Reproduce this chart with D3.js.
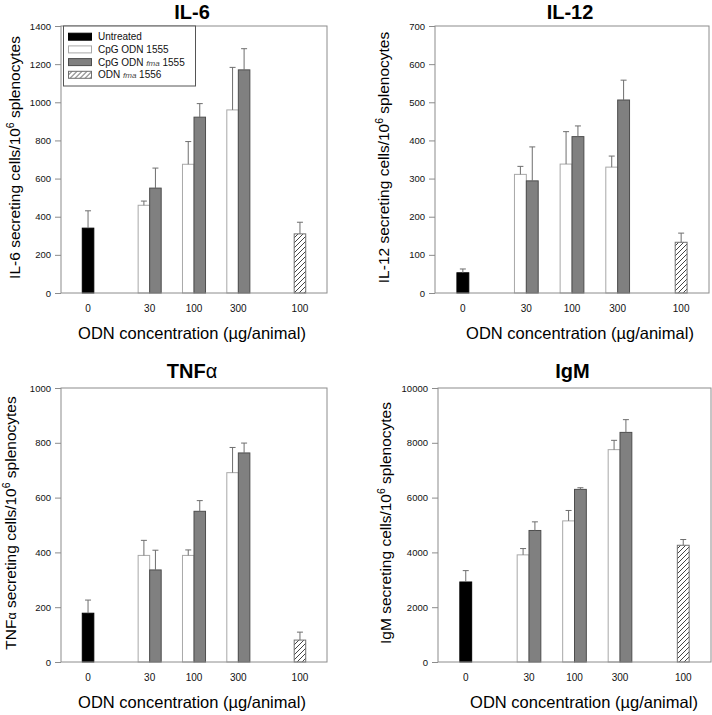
<!DOCTYPE html>
<html>
<head>
<meta charset="utf-8">
<script src="https://cdn.jsdelivr.net/npm/d3@7"></script>
<style>
  body { margin: 0; background: #fff; }
  svg { display: block; }
  text { font-family: "Liberation Sans", Arial, Helvetica, sans-serif; }
</style>
</head>
<body>
<div id="chart"></div>
<script>
// dose groups on the x axis (the last group is the control ODN)
const doseLabels = ['0', '30', '100', '300', '100'];
const seriesNames = ['Untreated', 'CpG ODN 1555', 'CpG ODN fma 1555', 'ODN fma 1556'];

// rows = series, columns = dose groups, null = not given
const il6Mean = [
    [340, null, null, null, null],
    [null, 460, 675, 960, null],
    [null, 550, 922, 1170, null],
    [null, null, null, null, 310]
];
const il6Err = [
    [91, null, null, null, null],
    [null, 22, 119, 223, null],
    [null, 105, 71, 111, null],
    [null, null, null, null, 61]
];

const il12Mean = [
    [53, null, null, null, null],
    [null, 311, 338, 330, null],
    [null, 294, 410, 506, null],
    [null, null, null, null, 133]
];
const il12Err = [
    [10, null, null, null, null],
    [null, 21, 85, 29, null],
    [null, 89, 28, 52, null],
    [null, null, null, null, 24]
];

const tnfMean = [
    [178, null, null, null, null],
    [null, 389, 389, 691, null],
    [null, 336, 550, 763, null],
    [null, null, null, null, 80]
];
const tnfErr = [
    [48, null, null, null, null],
    [null, 55, 20, 92, null],
    [null, 72, 39, 36, null],
    [null, null, null, null, 29]
];

const igmMean = [
    [2920, null, null, null, null],
    [null, 3910, 5150, 7750, null],
    [null, 4800, 6300, 8380, null],
    [null, null, null, null, 4260]
];
const igmErr = [
    [415, null, null, null, null],
    [null, 230, 380, 340, null],
    [null, 315, 60, 465, null],
    [null, null, null, null, 210]
];

const panels = [
    { title: 'IL-6', ylab: 'IL-6', mean: il6Mean, err: il6Err, yMax: 1400, yStep: 200,
      left: 61, right: 327, top: 26, bottom: 293, titleY: 18.5, ylabX: 20, xlabX: 192, legend: true },
    { title: 'IL-12', ylab: 'IL-12', mean: il12Mean, err: il12Err, yMax: 700, yStep: 100,
      left: 435, right: 709, top: 26, bottom: 293, titleY: 18.5, ylabX: 389, xlabX: 580 },
    { title: 'TNF', ylab: 'TNF', alpha: true, mean: tnfMean, err: tnfErr, yMax: 1000, yStep: 200,
      left: 61, right: 327, top: 388, bottom: 662, titleY: 378, ylabX: 16, xlabX: 192 },
    { title: 'IgM', ylab: 'IgM', mean: igmMean, err: igmErr, yMax: 10000, yStep: 2000,
      left: 438, right: 711, top: 388, bottom: 662, titleY: 378, ylabX: 391, xlabX: 584 }
];

const fills = ['#000000', '#ffffff', '#808080', 'url(#hatch)'];
const strokes = ['#000000', '#a8a8a8', '#4d4d4d', '#707070'];

const svg = d3.select('#chart').append('svg')
    .attr('width', 712)
    .attr('height', 715);

const defs = svg.append('defs');
defs.append('pattern')
      .attr('id', 'hatch')
      .attr('patternUnits', 'userSpaceOnUse')
      .attr('width', 5)
      .attr('height', 5)
    .call(pt => pt.append('rect').attr('width', 5).attr('height', 5).attr('fill', '#fff'))
    .append('path')
      .attr('d', 'M-1,1 l2,-2 M0,5 l5,-5 M4,6 l2,-2')
      .attr('stroke', '#303030')
      .attr('stroke-width', 0.9);

panels.forEach(p => drawPanel(svg, p));

function nameParts(sel, name, small) {
    // "fma" is set in small italics
    const parts = name.split('fma');
    parts.forEach((part, i) => {
        if (i > 0) {
            sel.append('tspan').attr('font-style', 'italic').attr('font-size', small).attr('fill', '#444').text('fma');
        }
        sel.append('tspan').text(part);
    });
}

function drawPanel(svg, p) {
    const w = p.right - p.left;
    const h = p.bottom - p.top;
    const g = svg.append('g').attr('transform', `translate(${p.left},${p.top})`);

    const y = d3.scaleLinear().domain([0, p.yMax]).range([h, 0]);
    const x = d3.scalePoint().domain(d3.range(doseLabels.length)).range([0, w]).padding(1);
    const bw = x.step() * 0.26;
    const sub = d3.scaleBand().domain(d3.range(seriesNames.length)).range([-2 * bw, 2 * bw]);

    const bars = [];
    p.mean.forEach((row, s) => row.forEach((v, c) => {
        if (v != null) bars.push({ s, c, v, e: p.err[s][c] });
    }));

    g.selectAll('rect.bar')
        .data(bars)
        .join('rect')
          .attr('class', 'bar')
          .attr('x', d => x(d.c) + sub(d.s))
          .attr('y', d => y(d.v))
          .attr('width', sub.bandwidth())
          .attr('height', d => h - y(d.v))
          .attr('fill', d => fills[d.s])
          .attr('stroke', d => strokes[d.s])
          .attr('stroke-width', 1);

    // error bars, upper half only
    const eb = g.selectAll('g.err')
        .data(bars)
        .join('g')
          .attr('class', 'err')
          .attr('stroke', '#6e6e6e')
          .attr('stroke-width', 1);
    eb.append('line')
        .attr('x1', d => x(d.c) + sub(d.s) + sub.bandwidth() / 2)
        .attr('x2', d => x(d.c) + sub(d.s) + sub.bandwidth() / 2)
        .attr('y1', d => y(d.v))
        .attr('y2', d => y(d.v + d.e));
    eb.append('line')
        .attr('x1', d => x(d.c) + sub(d.s) + sub.bandwidth() / 2 - 3)
        .attr('x2', d => x(d.c) + sub(d.s) + sub.bandwidth() / 2 + 3)
        .attr('y1', d => y(d.v + d.e))
        .attr('y2', d => y(d.v + d.e));

    // frame
    g.append('rect')
        .attr('width', w)
        .attr('height', h)
        .attr('fill', 'none')
        .attr('stroke', '#8c8c8c');

    const yAxis = d3.axisLeft(y)
        .tickValues(d3.range(0, p.yMax + 1, p.yStep))
        .tickSize(6)
        .tickPadding(4)
        .tickFormat(d3.format('d'));
    g.append('g')
        .call(yAxis)
        .call(a => a.select('.domain').remove())
        .call(a => a.selectAll('.tick line').attr('stroke', '#8c8c8c'))
        .call(a => a.selectAll('.tick text').attr('font-size', 9.5).attr('fill', '#111'));

    // dose labels sit under the middle of the bars that are present
    const labelX = doseLabels.map((lab, c) => {
        const here = bars.filter(b => b.c === c);
        return d3.mean(here, b => x(b.c) + sub(b.s) + sub.bandwidth() / 2);
    });
    g.selectAll('text.dose')
        .data(doseLabels)
        .join('text')
          .attr('class', 'dose')
          .attr('x', (d, i) => labelX[i])
          .attr('y', h + 19)
          .attr('text-anchor', 'middle')
          .attr('font-size', 10)
          .attr('fill', '#111')
          .text(d => d);

    // x axis title
    svg.append('text')
        .attr('x', p.xlabX)
        .attr('y', p.bottom + 46)
        .attr('text-anchor', 'middle')
        .attr('font-size', 16.5)
        .text('ODN concentration (\u00b5g/animal)');

    // y axis title
    const yl = svg.append('text')
        .attr('transform', `translate(${p.ylabX},${(p.top + p.bottom) / 2 - 2}) rotate(-90)`)
        .attr('text-anchor', 'middle')
        .attr('font-size', 15.5);
    yl.append('tspan').text(p.ylab);
    if (p.alpha) yl.append('tspan').attr('font-size', 12.5).text('\u03b1');
    yl.append('tspan').text(' secreting cells/10');
    yl.append('tspan').attr('font-size', 10.5).attr('dy', -6.5).text('6');
    yl.append('tspan').attr('dy', 6.5).text(' splenocytes');

    // panel title
    const t = svg.append('text')
        .attr('x', (p.left + p.right) / 2 - 2)
        .attr('y', p.titleY)
        .attr('text-anchor', 'middle')
        .attr('font-size', 20)
        .attr('font-weight', 'bold');
    t.append('tspan').text(p.title);
    if (p.alpha) t.append('tspan').attr('font-weight', 'normal').text('\u03b1');

    if (p.legend) drawLegend(g);
}

function drawLegend(g) {
    const lg = g.append('g').attr('transform', 'translate(2.5,0)');
    lg.append('rect')
        .attr('width', 132)
        .attr('height', 60)
        .attr('fill', '#fff')
        .attr('stroke', '#555');
    const rows = lg.selectAll('g.row')
        .data(seriesNames)
        .join('g')
          .attr('class', 'row')
          .attr('transform', (d, i) => `translate(5,${10.7 + i * 12.7})`);
    rows.append('rect')
        .attr('y', -3.5)
        .attr('width', 23)
        .attr('height', 7)
        .attr('fill', (d, i) => fills[i])
        .attr('stroke', (d, i) => strokes[i]);
    rows.append('text')
        .attr('x', 29.5)
        .attr('y', 3.6)
        .attr('font-size', 10)
        .attr('fill', '#111')
        .each(function (d) { nameParts(d3.select(this), d, 8); });
}
</script>
</body>
</html>
